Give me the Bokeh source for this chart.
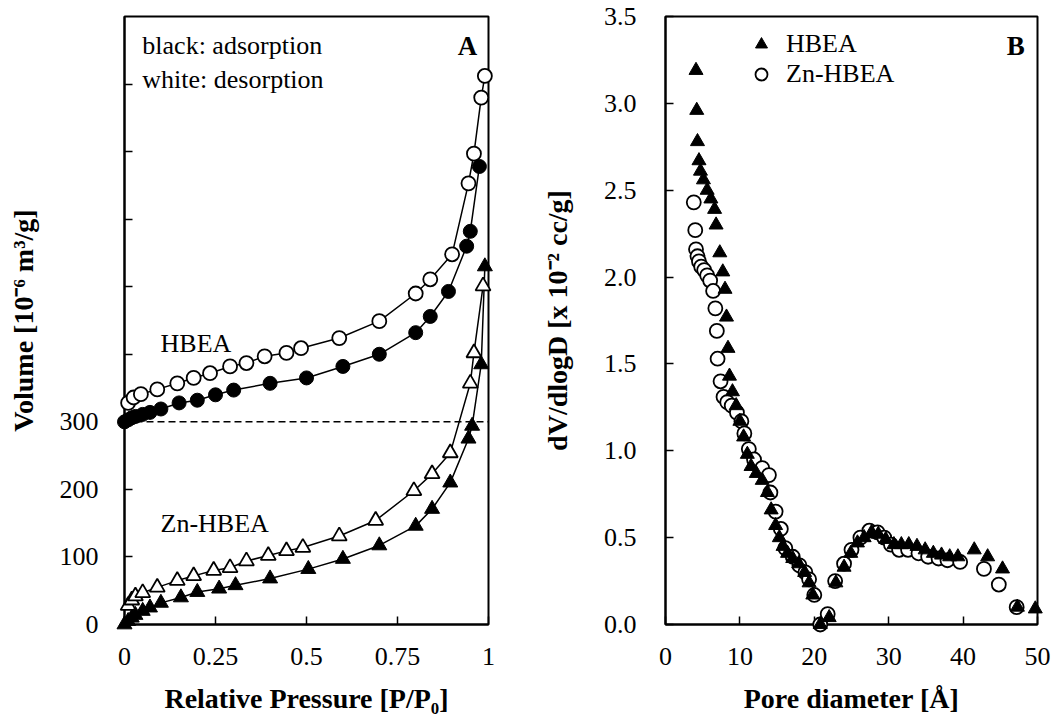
from bokeh.plotting import figure
from bokeh.models import FixedTicker, Legend, LegendItem, Span, NumeralTickFormatter
from bokeh.layouts import row
from bokeh.embed import file_html
from bokeh.resources import INLINE
from bokeh.core.properties import value

SERIF = "Liberation Serif"

# ---------------- Panel A: N2 isotherms ----------------
HBEA_OFFSET = 300  # HBEA isotherms shifted up by 300

hbea_ads_p = [0.0, 0.01, 0.02, 0.03, 0.05, 0.07, 0.1, 0.15, 0.2, 0.25, 0.3, 0.4, 0.5, 0.6, 0.7,
              0.8, 0.84, 0.89, 0.94, 0.95, 0.975]
hbea_ads_v = [0, 3, 6, 8, 11, 14, 19, 28, 32, 40, 47, 57, 65, 82, 100,
              132, 156, 193, 260, 282, 378]

hbea_des_p = [0.01, 0.025, 0.045, 0.09, 0.145, 0.19, 0.235, 0.29, 0.335, 0.385, 0.445, 0.485,
              0.59, 0.7, 0.8, 0.84, 0.9, 0.945, 0.96, 0.98, 0.99]
hbea_des_v = [28, 36, 41, 48, 57, 65, 72, 82, 87, 97, 102, 109,
              124, 149, 190, 211, 248, 353, 397, 480, 512]

zn_ads_p = [0.0, 0.01, 0.02, 0.03, 0.05, 0.07, 0.1, 0.155, 0.2, 0.26, 0.305, 0.4, 0.505, 0.6, 0.7,
            0.8, 0.845, 0.895, 0.945, 0.955, 0.98, 0.99]
zn_ads_v = [0, 5, 10, 14, 20, 25, 32, 40, 48, 53, 58, 68, 82, 97, 117,
            146, 171, 210, 275, 294, 385, 530]

zn_des_p = [0.01, 0.02, 0.03, 0.05, 0.09, 0.145, 0.19, 0.245, 0.29, 0.335, 0.395, 0.445, 0.49,
            0.59, 0.69, 0.795, 0.845, 0.895, 0.95, 0.96, 0.985]
zn_des_v = [28, 36, 42, 47, 55, 65, 72, 80, 84, 94, 102, 109, 114,
            131, 154, 198, 223, 254, 357, 402, 501]

a_xticks = [0, 0.25, 0.5, 0.75, 1]
a_yticks = [0, 100, 200, 300, 400, 500, 600, 700, 800]
a_ylabels = ["0", "100", "200", "300", "", "", "", "", ""]

# ---------------- Panel B: pore size distribution ----------------
hb_d = [4.1, 4.2, 4.3, 4.5, 4.7, 5.1, 5.6, 6.1, 6.6, 6.8, 7.3, 7.7, 8.0, 8.2, 8.4, 8.6, 9.0, 9.5,
        10.0, 10.5, 11.0, 11.5, 12.2, 13.0, 13.7, 14.2, 14.8, 15.3, 15.8, 16.4, 17.1, 17.9, 18.7,
        19.3, 19.8, 20.8, 22.0, 22.9, 24.0, 24.9, 25.8, 26.7, 27.7, 28.6, 29.6, 30.7, 31.7, 32.7,
        33.8, 34.9, 36.0, 37.1, 38.2, 39.3, 41.5, 43.3, 45.3, 47.3, 49.7]
hb_v = [3.19, 2.96, 2.78, 2.67, 2.61, 2.56, 2.50, 2.45, 2.39, 2.30, 2.14, 2.03, 1.93, 1.77, 1.59,
        1.43, 1.34, 1.26, 1.17, 1.08, 0.98, 0.91, 0.87, 0.83, 0.76, 0.66, 0.57, 0.50, 0.45, 0.41,
        0.38, 0.35, 0.30, 0.24, 0.17, 0.0, 0.04, 0.24, 0.33, 0.41, 0.47, 0.50, 0.53, 0.52, 0.49,
        0.46, 0.46, 0.46, 0.45, 0.43, 0.41, 0.40, 0.39, 0.39, 0.43, 0.39, 0.32, 0.10, 0.09]

zn_d = [3.8, 4.0, 4.1, 4.3, 4.5, 4.8, 5.2, 5.6, 6.0, 6.4, 6.7, 6.9, 7.0, 7.4, 7.8, 8.3, 8.9, 9.6,
        10.2, 10.6, 11.2, 11.9, 13.0, 13.9, 14.1, 14.8, 15.5, 16.1, 17.1, 18.0, 18.8, 19.3, 20.0,
        20.8, 21.8, 22.8, 24.0, 25.0, 26.2, 27.4, 28.5, 29.4, 30.3, 31.4, 32.6, 34.0, 35.3, 36.7,
        37.9, 39.6, 42.8, 44.8, 47.2]
zn_v = [2.43, 2.27, 2.16, 2.12, 2.09, 2.06, 2.04, 2.01, 1.98, 1.92, 1.82, 1.69, 1.53, 1.40, 1.31,
        1.28, 1.26, 1.22, 1.17, 1.10, 1.01, 0.95, 0.90, 0.86, 0.76, 0.65, 0.55, 0.44, 0.39, 0.34,
        0.30, 0.26, 0.17, 0.0, 0.06, 0.25, 0.35, 0.43, 0.50, 0.54, 0.53, 0.50, 0.46, 0.43, 0.43,
        0.41, 0.39, 0.38, 0.37, 0.36, 0.32, 0.23, 0.10]

b_xticks = [0, 10, 20, 30, 40, 50]
b_yticks = [0, 0.5, 1.0, 1.5, 2.0, 2.5, 3.0, 3.5]


def style_axes(p, xlab, ylab, xstand, ystand, xlstand, ylstand):
    p.xgrid.visible = False
    p.ygrid.visible = False
    p.outline_line_color = "black"
    p.outline_line_width = 2
    p.outline_line_alpha = 1
    p.background_fill_color = "white"
    p.border_fill_color = "white"
    for ax in (p.xaxis[0], p.yaxis[0]):
        ax.axis_line_width = 2
        ax.axis_line_color = "black"
        ax.major_tick_in = 8
        ax.major_tick_out = 0
        ax.major_tick_line_width = 1.5
        ax.minor_tick_in = 0
        ax.minor_tick_out = 0
        ax.major_label_text_font = SERIF
        ax.major_label_text_font_size = "26px"
        ax.major_label_text_color = "black"
        ax.axis_label_text_font = SERIF
        ax.axis_label_text_font_style = "bold"
        ax.axis_label_text_font_size = "28px"
        ax.axis_label_text_color = "black"
    p.xaxis[0].axis_label = xlab
    p.yaxis[0].axis_label = ylab
    p.xaxis[0].major_label_standoff = xstand
    p.yaxis[0].major_label_standoff = ystand
    p.xaxis[0].axis_label_standoff = xlstand
    p.yaxis[0].axis_label_standoff = ylstand


pA = figure(width=538, height=718, x_range=(0, 1), y_range=(0, 900),
            output_backend="svg", toolbar_location=None,
            min_border_left=124, min_border_right=50, min_border_top=16, min_border_bottom=94)
style_axes(pA, "Relative Pressure [P/P\u2080]", "Volume [10\u207b\u2076 m\u00b3/g]", 23, 26, 15, 18)
pA.xaxis[0].ticker = FixedTicker(ticks=a_xticks)
pA.xaxis[0].formatter = NumeralTickFormatter(format="0.[00]")
pA.yaxis[0].ticker = FixedTicker(ticks=a_yticks)
pA.yaxis[0].major_label_overrides = {t: l for t, l in zip(a_yticks, a_ylabels)}

pA.add_layout(Span(location=HBEA_OFFSET, dimension="width", line_color="black",
                   line_dash="7 4", line_width=1.5))

hbea_ads_y = [v + HBEA_OFFSET for v in hbea_ads_v]
hbea_des_y = [v + HBEA_OFFSET for v in hbea_des_v]

for xs, ys in ((hbea_ads_p, hbea_ads_y), (hbea_des_p, hbea_des_y),
               (zn_ads_p, zn_ads_v), (zn_des_p, zn_des_v)):
    pA.line(xs, ys, line_color="black", line_width=1.5)

pA.scatter(hbea_des_p, hbea_des_y, marker="circle", size=14, fill_color="white",
           line_color="black", line_width=1.8, level="overlay")
pA.scatter(hbea_ads_p, hbea_ads_y, marker="circle", size=14, fill_color="black",
           line_color="black", level="overlay")
pA.scatter(zn_des_p, zn_des_v, marker="triangle", size=15, fill_color="white",
           line_color="black", line_width=1.8, level="overlay")
pA.scatter(zn_ads_p, zn_ads_v, marker="triangle", size=15, fill_color="black",
           line_color="black", level="overlay")

pA.text(x=[0.049, 0.049, 0.099, 0.099], y=[857, 807, 416, 150],
        text=["black: adsorption", "white: desorption", "HBEA", "Zn-HBEA"],
        text_font=value(SERIF), text_font_size=value("26px"), text_color="black",
        text_align="left", text_baseline="middle")
pA.text(x=[0.942], y=[857], text=["A"], text_font=value(SERIF), text_font_size=value("27px"),
        text_font_style="bold", text_color="black", text_align="center", text_baseline="middle")

# ---------------- Panel B ----------------
pB = figure(width=513, height=718, x_range=(0, 50), y_range=(0, 3.5),
            output_backend="svg", toolbar_location=None,
            min_border_left=124, min_border_right=14, min_border_top=16, min_border_bottom=94)
style_axes(pB, "Pore diameter [\u00c5]", "dV/dlogD [x 10\u207b\u00b2 cc/g]", 23, 29, 15, 28)
pB.xaxis[0].ticker = FixedTicker(ticks=b_xticks)
pB.yaxis[0].ticker = FixedTicker(ticks=b_yticks)
pB.yaxis[0].formatter = NumeralTickFormatter(format="0.0")

r_zn = pB.scatter(zn_d, zn_v, marker="circle", size=14, fill_color="white",
                  line_color="black", line_width=1.8, level="overlay")
r_hb = pB.scatter(hb_d, hb_v, marker="triangle", size=14, fill_color="black",
                  line_color="black", level="overlay")

legend = Legend(items=[LegendItem(label="HBEA", renderers=[r_hb]),
                       LegendItem(label="Zn-HBEA", renderers=[r_zn])],
                location=(79, 535), border_line_color=None, background_fill_alpha=0,
                label_text_font=SERIF, label_text_font_size="26px", label_text_color="black",
                glyph_width=34, glyph_height=30, label_standoff=8, spacing=0,
                padding=0, margin=0)
pB.add_layout(legend)

pB.text(x=[47.07], y=[3.33], text=["B"], text_font=value(SERIF), text_font_size=value("27px"),
        text_font_style="bold", text_color="black", text_align="center", text_baseline="middle")

layout = row(pA, pB)
open("out.html", "w").write(file_html(layout, INLINE))
